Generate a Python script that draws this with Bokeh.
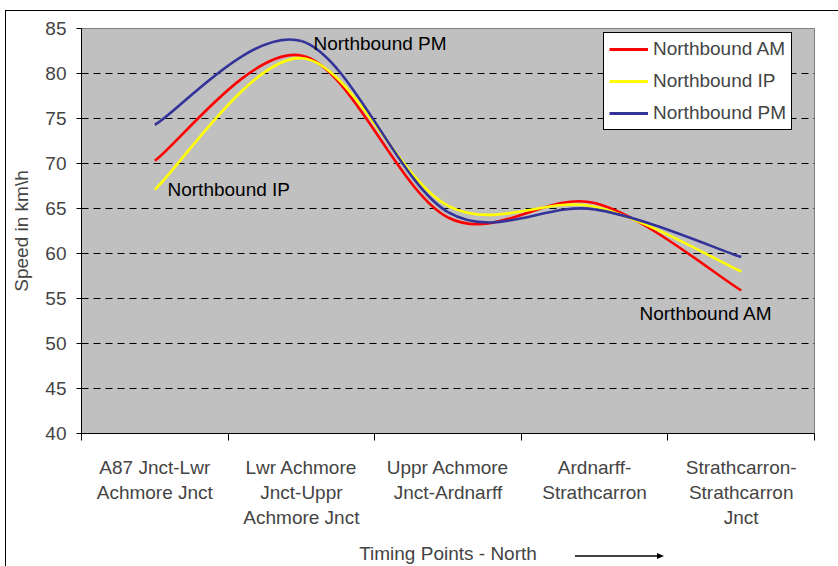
import numpy as np
from bokeh.plotting import figure
from bokeh.models import (FixedTicker, Legend, LegendItem, Label, Range1d,
                          InlineStyleSheet)
from bokeh.embed import file_html
from bokeh.resources import INLINE

# ---- data ----
categories = [
    "A87 Jnct-Lwr\nAchmore Jnct",
    "Lwr Achmore\nJnct-Uppr\nAchmore Jnct",
    "Uppr Achmore\nJnct-Ardnarff",
    "Ardnarff-\nStrathcarron",
    "Strathcarron-\nStrathcarron\nJnct",
]
northbound_am = [70.3, 82.0, 64.0, 65.6, 55.9]
northbound_ip = [67.1, 81.7, 65.3, 65.2, 58.0]
northbound_pm = [74.3, 83.6, 64.6, 64.9, 59.6]
y_ticks = [40, 45, 50, 55, 60, 65, 70, 75, 80, 85]

series = [
    ("Northbound AM", northbound_am, "#FF0000"),
    ("Northbound IP", northbound_ip, "#FFFF00"),
    ("Northbound PM", northbound_pm, "#333399"),
]

FONT = "Liberation Sans"
FS = "19px"
n = len(categories)
xs = np.arange(n) + 0.5

# frame geometry (pixels)
FL, FR, FT, FB = 81, 814, 28, 433
Y0, Y1 = 40, 85


def px_x(px):
    return (px - FL) / (FR - FL) * n


def px_y(py):
    return Y0 + (FB - py) / (FB - FT) * (Y1 - Y0)


# decorations outside the plot frame: chart-area border and the arrow
# beside the x-axis title
arrow_svg = ("data:image/svg+xml;utf8,<svg xmlns='http://www.w3.org/2000/svg' "
             "width='90' height='8'><line x1='0' y1='4' x2='83' y2='4' "
             "stroke='black' stroke-width='1.5'/>"
             "<polygon points='82,1 89,4 82,7' fill='black'/></svg>")
css = f"""
:host {{ position: relative; }}
:host::before {{
  content: ""; position: absolute; left: 5px; top: 10px;
  width: 833px; height: 556px; box-sizing: border-box;
  border-left: 1.5px solid black; border-top: 1.5px solid black;
  pointer-events: none; z-index: 5;
}}
:host::after {{
  content: ""; position: absolute; left: 575px; top: 552px;
  width: 90px; height: 8px;
  background: url("{arrow_svg}") no-repeat;
  pointer-events: none; z-index: 5;
}}
"""

p = figure(width=838, height=566, output_backend="svg", toolbar_location=None,
           x_range=Range1d(0, n), y_range=Range1d(Y0, Y1),
           min_border_left=FL, min_border_right=838 - FR, min_border_top=FT,
           min_border_bottom=566 - FB,
           stylesheets=[InlineStyleSheet(css=css)])

p.background_fill_color = "#C0C0C0"
p.border_fill_color = "white"
p.outline_line_color = "#808080"
p.outline_line_width = 1

# grid
p.xgrid.grid_line_color = None
p.ygrid.ticker = FixedTicker(ticks=y_ticks[1:-1])
p.ygrid.grid_line_color = "black"
p.ygrid.grid_line_dash = "7 5"
p.ygrid.grid_line_width = 1

# y axis
ya = p.yaxis[0]
ya.ticker = FixedTicker(ticks=y_ticks)
ya.axis_label = "Speed in km\\h"
ya.axis_label_text_font = FONT
ya.axis_label_text_font_size = FS
ya.axis_label_text_font_style = "normal"
ya.axis_label_standoff = 10
ya.major_label_text_font = FONT
ya.major_label_text_font_size = FS
ya.major_label_standoff = 10
ya.major_tick_out = 5
ya.major_tick_in = 0
ya.minor_tick_line_color = None
ya.axis_line_color = "black"
ya.major_tick_line_color = "black"

# x axis
xa = p.xaxis[0]
xa.ticker = FixedTicker(ticks=list(xs), minor_ticks=list(range(n + 1)))
xa.major_label_overrides = {float(x): c for x, c in zip(xs, categories)}
xa.major_label_text_font = FONT
xa.major_label_text_font_size = FS
xa.major_label_text_line_height = 1.2
xa.major_label_standoff = 16
xa.major_tick_line_color = None
xa.major_tick_out = 0
xa.major_tick_in = 0
xa.minor_tick_line_color = "black"
xa.minor_tick_out = 7
xa.minor_tick_in = 0
xa.axis_line_color = "black"
xa.axis_label = "Timing Points - North"
xa.axis_label_text_font = FONT
xa.axis_label_text_font_size = FS
xa.axis_label_text_font_style = "normal"
xa.axis_label_standoff = 12


def bezier_parts(vals):
    y = np.asarray(vals, dtype=float)
    xp = np.concatenate([[xs[0]], xs, [xs[-1]]])
    yp = np.concatenate([[y[0]], y, [y[-1]]])
    x0, y0 = xp[1:-2], yp[1:-2]
    x1, y1 = xp[2:-1], yp[2:-1]
    cx0 = x0 + (xp[2:-1] - xp[0:-3]) / 6.0
    cy0 = y0 + (yp[2:-1] - yp[0:-3]) / 6.0
    cx1 = x1 - (xp[3:] - xp[1:-2]) / 6.0
    cy1 = y1 - (yp[3:] - yp[1:-2]) / 6.0
    return dict(x0=x0, y0=y0, x1=x1, y1=y1, cx0=cx0, cy0=cy0, cx1=cx1, cy1=cy1)


items = []
for name, vals, color in series:
    p.bezier(source=bezier_parts(vals), x0="x0", y0="y0", x1="x1", y1="y1",
             cx0="cx0", cy0="cy0", cx1="cx1", cy1="cy1",
             line_color=color, line_width=2.6)
    r = p.line(x=[np.nan], y=[np.nan], line_color=color, line_width=3)
    items.append(LegendItem(label=name, renderers=[r]))

legend = Legend(items=items, location=(522, 303), margin=0, padding=5,
                spacing=10, glyph_height=20, glyph_width=39, label_height=20,
                label_standoff=5, label_text_font=FONT,
                label_text_font_size=FS,
                border_line_color="black", border_line_width=1,
                border_line_alpha=1.0,
                background_fill_color="white", background_fill_alpha=1.0)
p.add_layout(legend)

for txt, lx, ly in [("Northbound PM", 313, 43),
                    ("Northbound IP", 167, 189),
                    ("Northbound AM", 639, 313)]:
    p.add_layout(Label(x=px_x(lx), y=px_y(ly), text=txt, text_font=FONT,
                       text_font_size=FS, text_baseline="middle",
                       text_color="black"))

open("out.html", "w").write(file_html(p, INLINE))
